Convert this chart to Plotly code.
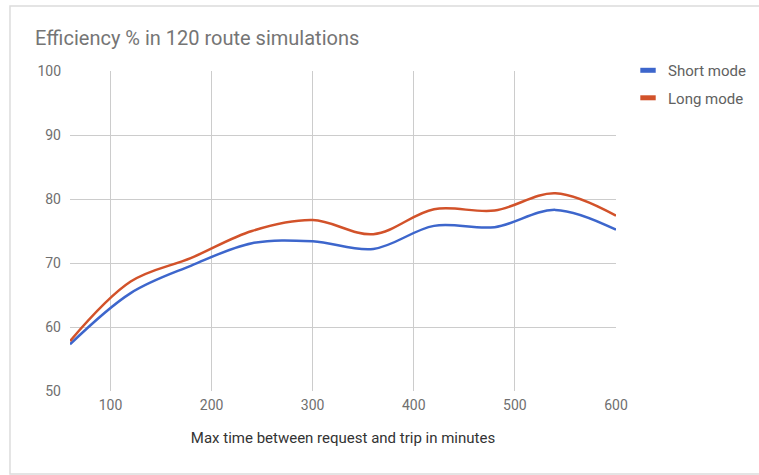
import plotly.graph_objects as go

# Max time between request and trip (minutes)
minutes = [60, 120, 180, 240, 300, 360, 420, 480, 540, 600]

# Efficiency % per mode
short_mode = [57.3, 65.3, 69.6, 73.1, 73.4, 72.2, 75.8, 75.6, 78.3, 75.2]
long_mode = [57.8, 67.1, 70.8, 75.0, 76.7, 74.5, 78.4, 78.2, 80.9, 77.4]

series_names = ["Short mode", "Long mode"]
series_colors = ["#3d66cc", "#d2522a"]

x_ticks = [100, 200, 300, 400, 500, 600]
y_ticks = [50, 60, 70, 80, 90, 100]

fig = go.Figure()
for name, values, color in zip(series_names, [short_mode, long_mode], series_colors):
    fig.add_trace(go.Scatter(
        x=minutes, y=values, name=name, mode="lines", showlegend=False,
        line=dict(color=color, width=2.5, shape="spline", smoothing=1),
    ))
    # legend entry drawn as a short thick bar, like the original
    fig.add_trace(go.Scatter(
        x=[None], y=[None], name=name, mode="markers", legendgroup=name,
        marker=dict(symbol="line-ew-open", size=11, color=color,
                    line=dict(color=color, width=5)),
    ))

# light frame around the whole chart
fig.add_shape(
    type="rect", xref="paper", yref="paper",
    x0=-0.1099, x1=1.35, y0=-0.259, y1=1.203,
    line=dict(color="#dcdcdc", width=1.5), layer="below",
)

fig.update_layout(
    width=759, height=475,
    margin=dict(l=70, r=143, t=71, b=84, autoexpand=False),
    paper_bgcolor="white", plot_bgcolor="white",
    font=dict(family="Roboto", size=14, color="#222222"),
    title=dict(
        text="Efficiency % in 120 route simulations",
        x=35 / 759, xanchor="left", y=1 - 38 / 475, yanchor="middle",
        font=dict(size=20, color="#757575"),
    ),
    legend=dict(
        x=1.022, xanchor="left", y=1.053, yanchor="top",
        font=dict(size=15, color="#616161"),
        itemwidth=30, tracegroupgap=5,
    ),
    xaxis=dict(
        range=[60, 600], tickvals=x_ticks,
        showgrid=True, gridcolor="#cccccc", zeroline=False,
        showline=False, ticks="", ticklabelstandoff=4,
        tickfont=dict(size=14, color="#6f6f6f"),
        title=dict(text="Max time between request and trip in minutes",
                   font=dict(size=15, color="#333333"), standoff=20),
    ),
    yaxis=dict(
        range=[50, 100], tickvals=y_ticks,
        showgrid=True, gridcolor="#cccccc", zeroline=False,
        showline=False, ticks="", ticklabelstandoff=8,
        tickfont=dict(size=14, color="#6f6f6f"),
    ),
)

fig.write_html("out.html", config={"displayModeBar": False},
               post_script="document.body.style.margin='0';")
